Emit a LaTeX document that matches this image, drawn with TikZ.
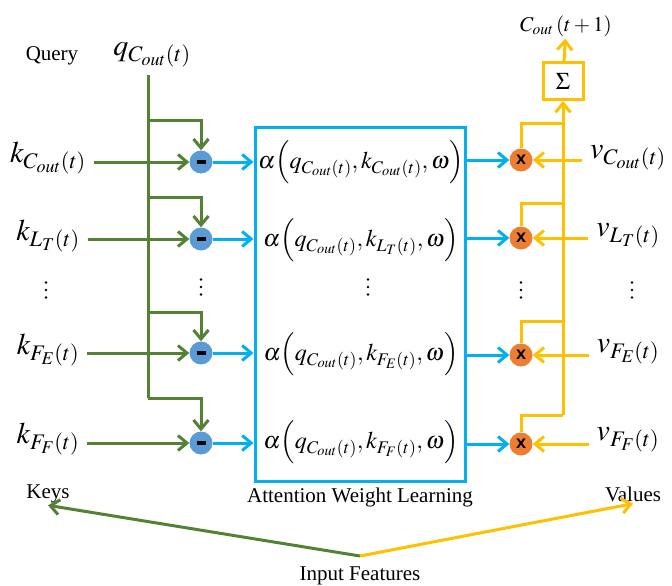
\documentclass[tikz,border=0pt]{standalone}
\usepackage{mathptmx}
\usepackage[no-math]{fontspec}
\setmainfont{Liberation Serif}
\setsansfont{Liberation Sans}
\usepackage{tikz}
\usetikzlibrary{arrows.meta, positioning, calc}
\definecolor{keygreen}{RGB}{84,130,53}
\definecolor{attblue}{RGB}{0,176,240}
\definecolor{valyellow}{RGB}{255,192,0}
\definecolor{subblue}{RGB}{91,155,213}
\definecolor{mulorange}{RGB}{237,125,49}
\tikzset{
  lbl/.style={font=\fontsize{21}{25}\selectfont, inner sep=2pt},
  dots/.style={minimum width=6pt, minimum height=22pt, inner sep=0pt, path picture={
    \fill ([yshift=7.5pt]path picture bounding box.center) circle (1.4pt);
    \fill (path picture bounding box.center) circle (1.4pt);
    \fill ([yshift=-7.5pt]path picture bounding box.center) circle (1.4pt);}},
  sym/.style={font=\fontsize{30}{34}\selectfont, inner sep=2pt, outer sep=6pt},
  fml/.style={font=\fontsize{24}{28}\selectfont, inner sep=0pt},
  subnode/.style={circle, fill=subblue, minimum size=23pt, inner sep=0pt},
  mulnode/.style={circle, fill=mulorange, minimum size=23pt, inner sep=0pt, font=\sffamily\bfseries\fontsize{18}{18}\selectfont},
  attbox/.style={draw=attblue, line width=3pt, minimum width=210pt, minimum height=354pt},
  sumbox/.style={draw=valyellow, line width=3pt, fill=white, minimum width=40pt, minimum height=37pt, font=\fontsize{24}{28}\selectfont},
  tip/.style={-{Straight Barb[length=9pt, width=15pt]}},
  garr/.style={tip, draw=keygreen, line width=3pt},
  gline/.style={draw=keygreen, line width=3pt},
  barr/.style={tip, draw=attblue, line width=3pt},
  yarr/.style={tip, draw=valyellow, line width=3pt},
  yline/.style={draw=valyellow, line width=3pt},
}
\begin{document}
\begin{tikzpicture}[x=1pt, y=-1pt]
  \useasboundingbox (0,0) rectangle (672,586);
  % query, keys and values
  \node[lbl] (query) at (52,56) {Query};
  \node[sym] (q) at (152,55) {$q_{C_{out}(t)}$};
  \node[sym] (k1) at (48,158) {$k_{C_{out}(t)}$};
  \node[sym] (k2) at (48,236) {$k_{L_T(t)}$};
  \node[sym] (k3) at (48,350) {$k_{F_E(t)}$};
  \node[sym] (k4) at (48,439) {$k_{F_F(t)}$};
  \node[sym] (v1) at (628,158) {$v_{C_{out}(t)}$};
  \node[sym] (v2) at (628,236) {$v_{L_T(t)}$};
  \node[sym] (v3) at (628,352) {$v_{F_E(t)}$};
  \node[sym] (v4) at (628,440) {$v_{F_F(t)}$};
  % subtraction and multiplication
  \node[subnode] (m1) at (201,162) {\rule{9pt}{3.5pt}};
  \node[subnode] (m2) at (201,239) {\rule{9pt}{3.5pt}};
  \node[subnode] (m3) at (201,353) {\rule{9pt}{3.5pt}};
  \node[subnode] (m4) at (201,443) {\rule{9pt}{3.5pt}};
  \node[mulnode] (x1) at (521,160) {x};
  \node[mulnode] (x2) at (521,238) {x};
  \node[mulnode] (x3) at (521,355) {x};
  \node[mulnode] (x4) at (521,444) {x};
  % attention block
  \node[attbox] (att) at (360,304) {};
  \node[fml] (a1) at (361,162) {$\alpha\Bigl(q_{C_{out}(t)},k_{C_{out}(t)},\omega\Bigr)$};
  \node[fml] (a2) at (361,240) {$\alpha\Bigl(q_{C_{out}(t)},k_{L_T(t)},\omega\Bigr)$};
  \node[fml] (a3) at (361,354) {$\alpha\Bigl(q_{C_{out}(t)},k_{F_E(t)},\omega\Bigr)$};
  \node[fml] (a4) at (361,442) {$\alpha\Bigl(q_{C_{out}(t)},k_{F_F(t)},\omega\Bigr)$};
  \node[lbl, below=3pt of att] (attlbl) {Attention Weight Learning};
  \node[sumbox] (sum) at (563,81) {$\Sigma$};
  \node[lbl] (cout) at (566,26) {$C_{out}\left(t+1\right)$};
  % dots
  \node[dots] (d1) at (46,290) {};
  \node[dots] (d2) at (201,287) {};
  \node[dots] (d3) at (368,287) {};
  \node[dots] (d4) at (521,290) {};
  \node[dots] (d5) at (632,290) {};
  % bottom
  \node[lbl] (keys) at (48,494) {Keys};
  \node[lbl] (vals) at (633,494) {Values};
  \node[lbl] (inp) at (360,576) {Input Features};
  \coordinate (j) at (360,556);
  \coordinate (b1) at (148,120);
  \coordinate (b2) at (148,197);
  \coordinate (b3) at (148,312);
  \coordinate (b4) at (148,398);
  \coordinate (c1) at (563,123);
  \coordinate (c2) at (563,203);
  \coordinate (c3) at (563,321);
  \coordinate (c4) at (563,415);
  % query branches
  \draw[gline] (b1 |- q.south) -- (b4);
  \draw[garr] (b1) -| (m1);
  \draw[garr] (b2) -| (m2);
  \draw[garr] (b3) -| (m3);
  \draw[garr] (b4) -| (m4);
  \draw[garr] (k1.east |- m1) -- (m1);
  \draw[garr] (k2.east |- m2) -- (m2);
  \draw[garr] (k3.east |- m3) -- (m3);
  \draw[garr] (k4.east |- m4) -- (m4);
  \draw[barr] (m1) -- (m1 -| att.west);
  \draw[barr] (m2) -- (m2 -| att.west);
  \draw[barr] (m3) -- (m3 -| att.west);
  \draw[barr] (m4) -- (m4 -| att.west);
  \draw[barr] (att.east |- x1) -- (x1);
  \draw[barr] (att.east |- x2) -- (x2);
  \draw[barr] (att.east |- x3) -- (x3);
  \draw[barr] (att.east |- x4) -- (x4);
  % value branches
  \draw[yarr] (v1.west |- x1) -- (x1);
  \draw[yarr] (v2.west |- x2) -- (x2);
  \draw[yarr] (v3.west |- x3) -- (x3);
  \draw[yarr] (v4.west |- x4) -- (x4);
  \draw[yline] (x1) |- (c1);
  \draw[yline] (x2) |- (c2);
  \draw[yline] (x3) |- (c3);
  \draw[yline] (x4) |- (c4);
  \draw[yarr] (c4) -- (sum.south);
  \draw[yarr] (sum) -- (cout);
  \draw[garr] (j) -- (keys.south);
  \draw[yarr] (j) -- (vals.south);
\end{tikzpicture}
\end{document}
